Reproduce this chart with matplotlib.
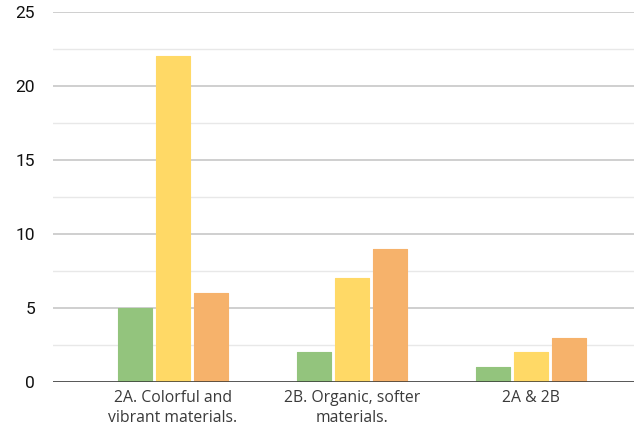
import numpy as np
import matplotlib.pyplot as plt
from matplotlib.ticker import MultipleLocator

# Categories and series values
categories = ["2A. Colorful and\nvibrant materials.", "2B. Organic, softer\nmaterials.", "2A & 2B"]
series_green = [5, 2, 1]
series_yellow = [22, 7, 2]
series_orange = [6, 9, 3]
y_ticks = [0, 5, 10, 15, 20, 25]

colors = ["#93c47d", "#ffd966", "#f6b26b"]

fig = plt.figure(figsize=(6.34, 4.29), dpi=100)
ax = fig.add_axes([53 / 634, 1 - 382 / 429, 1 - 53 / 634, 370 / 429])

x = np.arange(len(categories))
width = 0.19
step = 0.212
for i, (vals, c) in enumerate(zip([series_green, series_yellow, series_orange], colors)):
    ax.bar(x + (i - 1) * step, vals, width=width, color=c, zorder=3,
           edgecolor=c, linewidth=0.8, joinstyle="round")

ax.set_ylim(0, 25)
ax.set_xlim(-0.67, 2.575)
ax.set_yticks(y_ticks)
ax.yaxis.set_minor_locator(MultipleLocator(2.5))
ax.grid(axis="y", which="major", color="#cccccc", linewidth=1.3, zorder=0)
ax.grid(axis="y", which="minor", color="#e8e8e8", linewidth=1.0, zorder=0)
ax.axhline(0, color="#333333", linewidth=1.8, zorder=4)

for s in ax.spines.values():
    s.set_visible(False)
ax.tick_params(axis="both", which="both", length=0)
ax.tick_params(axis="y", pad=13, labelsize=12.5, labelcolor="#111111")
for lab in ax.get_yticklabels():
    lab.set_fontfamily("Roboto")

ax.set_xticks(x)
ax.set_xticklabels(categories, fontfamily="Open Sans", fontsize=11.3, color="#3a3a3a",
                   linespacing=1.3)
for lab in ax.get_xticklabels():
    lab.set_multialignment("center")
ax.tick_params(axis="x", pad=6)

fig.savefig("out.png", dpi=100)
